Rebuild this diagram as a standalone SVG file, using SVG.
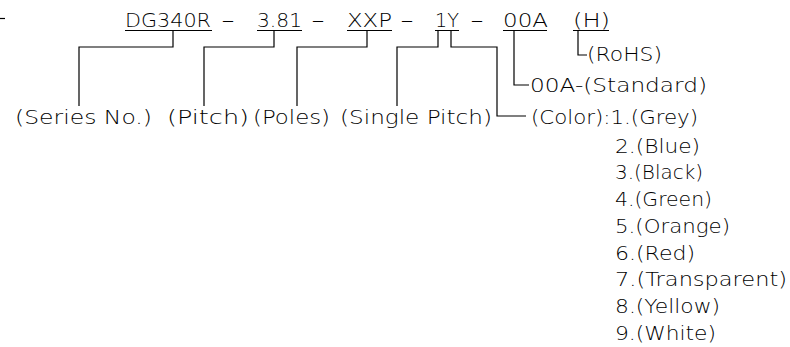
<svg xmlns="http://www.w3.org/2000/svg" width="790" height="347" viewBox="0 0 790 347">
<style>
text{font-family:"DejaVu Sans","Liberation Sans",sans-serif;font-size:20px;font-weight:200;fill:#000}
.ln{stroke:#000;stroke-width:1.2;fill:none}
</style>
<rect width="790" height="347" fill="#fff"/>
<g id="code">
<line class="ln" x1="0" y1="18.5" x2="5" y2="18.5"/>
<text x="125" y="27" textLength="86" lengthAdjust="spacingAndGlyphs">DG340R</text>
<text x="257" y="27" textLength="45" lengthAdjust="spacingAndGlyphs">3.81</text>
<text x="347" y="27" textLength="45" lengthAdjust="spacingAndGlyphs">XXP</text>
<text x="435" y="27" textLength="24" lengthAdjust="spacingAndGlyphs">1Y</text>
<text x="503" y="27" textLength="45" lengthAdjust="spacingAndGlyphs">00A</text>
<text x="573" y="27" textLength="37" lengthAdjust="spacingAndGlyphs">(H)</text>
<text x="221" y="27" textLength="14" lengthAdjust="spacingAndGlyphs">-</text>
<text x="311" y="27" textLength="14" lengthAdjust="spacingAndGlyphs">-</text>
<text x="400" y="27" textLength="14" lengthAdjust="spacingAndGlyphs">-</text>
<text x="470" y="27" textLength="14" lengthAdjust="spacingAndGlyphs">-</text>
<path class="ln" d="M125,30.5H212M257,30.5H302M347,30.5H392M435,30.5H459M503,30.5H547M573,30.5H609"/>
</g>
<g id="labels">
<text x="15" y="124" textLength="137" lengthAdjust="spacingAndGlyphs">(Series No.)</text>
<text x="167" y="124" textLength="82" lengthAdjust="spacingAndGlyphs">(Pitch)</text>
<text x="253" y="124" textLength="77" lengthAdjust="spacingAndGlyphs">(Poles)</text>
<text x="340" y="124" textLength="152" lengthAdjust="spacingAndGlyphs">(Single Pitch)</text>
</g>
<g id="options">
<text x="587" y="61" textLength="75" lengthAdjust="spacingAndGlyphs">(RoHS)</text>
<text x="530" y="92.3" textLength="177" lengthAdjust="spacingAndGlyphs">00A-(Standard)</text>
<text x="531" y="124" textLength="167" lengthAdjust="spacingAndGlyphs">(Color):1.(Grey)</text>
<text x="615" y="152.5" textLength="85" lengthAdjust="spacingAndGlyphs">2.(Blue)</text>
<text x="615" y="179.3" textLength="88" lengthAdjust="spacingAndGlyphs">3.(Black)</text>
<text x="615" y="206" textLength="97" lengthAdjust="spacingAndGlyphs">4.(Green)</text>
<text x="615" y="232.8" textLength="115" lengthAdjust="spacingAndGlyphs">5.(Orange)</text>
<text x="615" y="259.5" textLength="80" lengthAdjust="spacingAndGlyphs">6.(Red)</text>
<text x="615" y="286.3" textLength="172" lengthAdjust="spacingAndGlyphs">7.(Transparent)</text>
<text x="615" y="313" textLength="105" lengthAdjust="spacingAndGlyphs">8.(Yellow)</text>
<text x="615" y="339.8" textLength="101" lengthAdjust="spacingAndGlyphs">9.(White)</text>
</g>
<g id="connectors">
<path class="ln" d="M173,31V47H79V106"/>
<path class="ln" d="M274,31V47H204V106"/>
<path class="ln" d="M367,31V47H297V106"/>
<path class="ln" d="M438,31V47H397V106"/>
<path class="ln" d="M451,31V47H497V116H526"/>
<path class="ln" d="M514,31V85H529"/>
<path class="ln" d="M578,31V55H587"/>
</g>
</svg>
